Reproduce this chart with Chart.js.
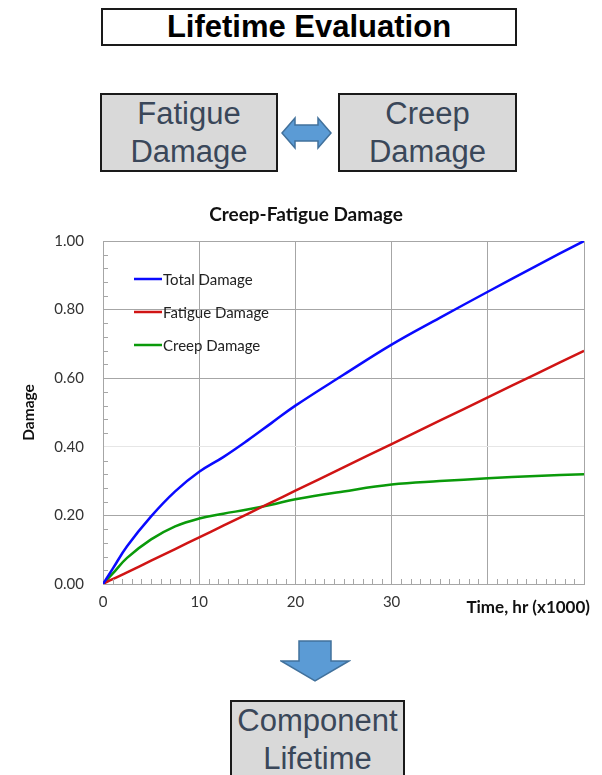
<!DOCTYPE html>
<html lang="en">
<head>
<meta charset="UTF-8">
<title>Lifetime Evaluation</title>
<script src="https://cdn.jsdelivr.net/npm/chart.js@4.4.0/dist/chart.umd.min.js"></script>
<style>
  body {
    margin: 0;
    width: 602px;
    height: 775px;
    position: relative;
    overflow: hidden;
    background: #fff;
    font-family: "Liberation Sans", Arial, sans-serif;
  }
  .box {
    position: absolute;
    box-sizing: border-box;
    border: 2px solid #1a1a1a;
    text-align: center;
  }
  .head {
    left: 101px; top: 8px; width: 416px; height: 38px;
    font-weight: bold; font-size: 31px; line-height: 34px; color: #000;
  }
  .grey {
    background: #d9d9d9; color: #3a4759;
    font-size: 31px; line-height: 38px;
  }
  #fatigue { left: 100px; top: 93px; width: 178px; height: 79px; }
  #creep { left: 338px; top: 93px; width: 179px; height: 79px; }
  #life { left: 230px; top: 700px; width: 175px; height: 90px; }
  svg.arrow { position: absolute; }
  .chart-box { position: absolute; left: 0; top: 195px; width: 602px; height: 430px; }
</style>
</head>
<body>

  <div class="box head">Lifetime Evaluation</div>
  <div class="box grey" id="fatigue">Fatigue<br>Damage</div>
  <div class="box grey" id="creep">Creep<br>Damage</div>

  <!-- two-way arrow between the damage boxes -->
  <svg class="arrow" style="left:281px; top:116px" width="52" height="35">
    <polygon points="1,17 14,2 14,9 37,9 37,2 50,17 37,32 37,25 14,25 14,32"
             fill="#5b9bd5" stroke="#41719c" stroke-width="1.5"/>
  </svg>

  <div class="chart-box"><canvas id="damageChart"></canvas></div>

  <!-- down arrow to the result -->
  <svg class="arrow" style="left:280px; top:640px" width="71" height="43">
    <polygon points="19,1 51,1 51,21 69,21 35,41 1,21 19,21"
             fill="#5b9bd5" stroke="#41719c" stroke-width="1.5"/>
  </svg>

  <div class="box grey" id="life">Component<br>Lifetime</div>

<script>
// time in thousands of hours
const timeK = [0, 1, 2.5, 5, 7.5, 10, 12.5, 15, 17.5, 20, 25, 30, 35, 40, 45, 50];
const totalDamage   = [0, 0.044, 0.110, 0.197, 0.270, 0.327, 0.370, 0.418, 0.469, 0.520, 0.610, 0.698, 0.776, 0.852, 0.927, 1.000];
const fatigueDamage = [0, 0.014, 0.034, 0.068, 0.102, 0.136, 0.170, 0.204, 0.238, 0.272, 0.340, 0.408, 0.476, 0.544, 0.612, 0.680];
const creepDamage   = [0, 0.030, 0.076, 0.130, 0.168, 0.191, 0.205, 0.217, 0.231, 0.247, 0.270, 0.290, 0.300, 0.308, 0.315, 0.320];

const seriesNames  = ['Total Damage', 'Fatigue Damage', 'Creep Damage'];
const seriesColors = ['#0a0aff', '#d01414', '#0a9a0a'];
const xTicksShown  = [0, 10, 20, 30];

const chartTitle = 'Creep-Fatigue Damage';
const xTitle = 'Time, hr (x1000)';
const yTitle = 'Damage';

const FONT = 'Lato, "Open Sans", sans-serif';
const GRID = '#a6a6a6';

function points(values) {
  return timeK.map((t, i) => ({ x: t, y: values[i] }));
}

// title, inside legend, x title and small inner tick marks
const extras = {
  id: 'extras',
  afterDraw(chart) {
    const { ctx, chartArea: a, scales: { x, y } } = chart;
    ctx.save();

    ctx.strokeStyle = GRID;
    ctx.lineWidth = 1;
    ctx.beginPath();
    for (let i = 1; i < 50; i++) {
      if (i % 10 === 0) continue;
      const px = Math.round(x.getPixelForValue(i)) + 0.5;
      ctx.moveTo(px, a.bottom);
      ctx.lineTo(px, a.bottom - 5);
    }
    for (let j = 1; j < 25; j++) {
      if (j % 5 === 0) continue;
      const py = Math.round(y.getPixelForValue(j * 0.04)) + 0.5;
      ctx.moveTo(a.left, py);
      ctx.lineTo(a.left + 5, py);
    }
    ctx.stroke();

    ctx.fillStyle = '#111';
    ctx.font = 'bold 19px ' + FONT;
    ctx.textAlign = 'center';
    ctx.textBaseline = 'middle';
    ctx.fillText(chartTitle, chart.width / 2 + 5, 20);

    ctx.font = 'bold 17px ' + FONT;
    ctx.textAlign = 'right';
    ctx.fillText(xTitle, a.right + 6, a.bottom + 24);

    ctx.font = '15px ' + FONT;
    ctx.textAlign = 'left';
    chart.data.datasets.forEach((ds, i) => {
      const ly = a.top + 38 + i * 33;
      ctx.strokeStyle = ds.borderColor;
      ctx.lineWidth = 2.5;
      ctx.beginPath();
      ctx.moveTo(a.left + 31, ly);
      ctx.lineTo(a.left + 59, ly);
      ctx.stroke();
      ctx.fillStyle = '#222';
      ctx.fillText(ds.label, a.left + 60, ly + 1);
    });

    ctx.restore();
  }
};

new Chart(document.getElementById('damageChart'), {
  type: 'line',
  data: {
    datasets: [totalDamage, fatigueDamage, creepDamage].map((vals, i) => ({
      label: seriesNames[i],
      data: points(vals),
      borderColor: seriesColors[i],
      backgroundColor: seriesColors[i],
      borderWidth: 2.5,
      pointRadius: 0,
      tension: 0.4,
      fill: false
    }))
  },
  options: {
    responsive: true,
    maintainAspectRatio: false,
    animation: false,
    layout: { padding: { top: 46, right: 18, left: 0, bottom: 0 } },
    plugins: {
      legend: { display: false },
      title: { display: false },
      tooltip: { enabled: false }
    },
    scales: {
      x: {
        type: 'linear',
        min: 0,
        max: 50,
        afterFit: s => { s.height = 41; },
        ticks: {
          stepSize: 10,
          padding: 9,
          color: '#333',
          font: { family: FONT, size: 15 },
          callback: v => xTicksShown.includes(v) ? v : ''
        },
        grid: { color: GRID, drawTicks: false },
        border: { color: GRID }
      },
      y: {
        min: 0,
        max: 1,
        afterFit: s => { s.width = 103; },
        ticks: {
          stepSize: 0.2,
          padding: 19,
          color: '#333',
          font: { family: FONT, size: 15 },
          callback: v => v.toFixed(2)
        },
        grid: {
          drawTicks: false,
          color: c => Math.abs(c.tick.value - 0.4) < 1e-6 ? '#e6e6e6' : GRID
        },
        border: { color: GRID },
        title: {
          display: true,
          text: yTitle,
          color: '#111',
          font: { family: FONT, size: 15.5, weight: 'bold' },
          padding: { top: 20, bottom: 0 }
        }
      }
    }
  },
  plugins: [extras]
});
</script>
</body>
</html>
